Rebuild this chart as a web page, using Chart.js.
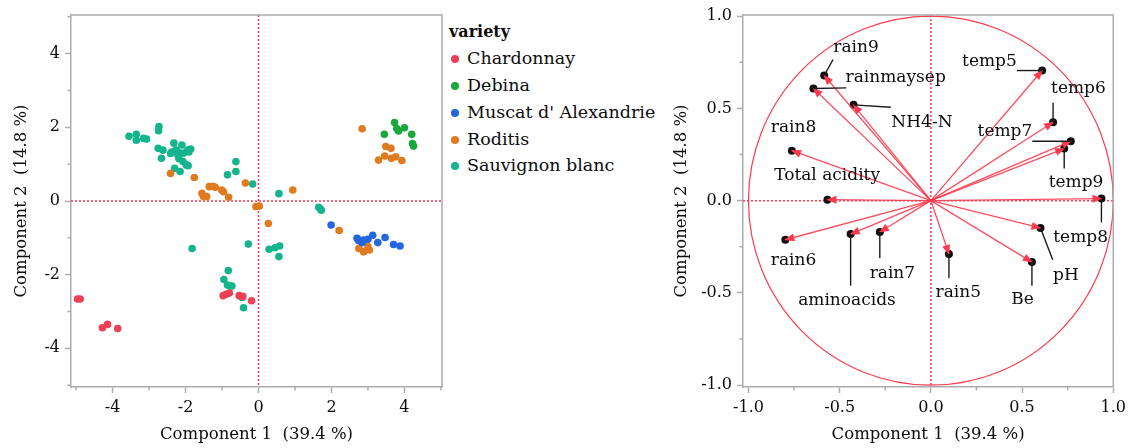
<!DOCTYPE html>
<html>
<head>
<meta charset="utf-8">
<script src="https://cdn.jsdelivr.net/npm/chart.js@4.4.1/dist/chart.umd.min.js"></script>
<style>
  html, body { margin: 0; padding: 0; background: #fff; }
  body { width: 1131px; height: 448px; position: relative; overflow: hidden; font-family: "DejaVu Serif", serif; color: #0c0c0c; }
  #scores { position: absolute; left: 0; top: 0; }
  #loadings { position: absolute; left: 660px; top: 0; }
  #legend { position: absolute; left: 449px; top: 18.6px; font-size: 17.5px; }
  #legend div { height: 26.75px; line-height: 26.75px; white-space: nowrap; }
  #legend .title { font-weight: bold; font-size: 16px; }
  #legend .dot { display: inline-block; width: 8px; height: 8px; border-radius: 50%; margin: 0 8px 0 2px; vertical-align: 1px; }
</style>
</head>
<body>
<canvas id="scores" width="446" height="448"></canvas>
<div id="legend"></div>
<canvas id="loadings" width="471" height="448"></canvas>
<script>
// PCA scores (Component 1, Component 2) per grape variety
const chardonnay = [[-4.96,-2.66],[-4.89,-2.66],[-4.28,-3.44],[-4.14,-3.35],[-3.86,-3.46],
  [-0.97,-2.57],[-0.89,-2.53],[-0.80,-2.50],[-0.53,-2.57],[-0.43,-2.59],[-0.19,-2.71]];
const debina = [[3.45,1.81],[3.73,2.13],[3.79,1.97],[3.84,1.90],[4.00,1.99],[4.20,1.81],
  [4.22,1.56],[4.25,1.49]];
const muscat = [[1.99,-0.65],[2.70,-1.01],[2.75,-1.08],[2.84,-1.13],[2.88,-1.06],[3.00,-1.04],
  [3.13,-0.93],[3.27,-1.13],[3.47,-0.99],[3.70,-1.18],[3.88,-1.22]];
const roditis = [[-2.41,0.75],[-1.76,0.64],[-1.55,0.21],[-1.51,0.12],[-1.42,0.12],[-1.35,0.39],
  [-1.25,0.40],[-1.19,0.37],[-1.01,0.30],[-0.96,0.25],[-0.82,0.10],[-0.36,0.49],[-0.07,-0.15],
  [0.02,-0.14],[0.27,-0.61],[0.94,0.30],[2.21,-0.80],[2.72,-1.03],[2.75,-1.29],[2.88,-1.38],
  [3.00,-1.24],[3.04,-1.33],[2.84,1.96],[3.29,1.11],[3.46,1.22],[3.49,1.48],[3.63,1.43],
  [3.64,1.16],[3.76,1.20],[3.93,1.10]];
const sauvignon = [[-3.55,1.76],[-3.35,1.81],[-3.35,1.65],[-3.15,1.70],[-3.07,1.68],[-2.73,2.02],
  [-2.74,1.91],[-2.75,1.43],[-2.62,1.38],[-2.66,1.16],[-2.41,1.29],[-2.32,1.57],[-2.25,1.38],
  [-2.21,1.25],[-2.10,1.52],[-2.15,1.30],[-2.05,1.30],[-1.94,1.38],[-1.86,1.41],[-1.91,1.33],
  [-2.28,1.36],[-2.07,1.07],[-1.98,0.98],[-1.93,0.96],[-2.30,0.89],[-2.15,0.80],[-2.18,1.15],
  [-2.38,1.33],[-0.62,1.07],[-0.62,0.80],[-0.85,0.71],[-0.16,0.46],[0.56,0.20],[1.65,-0.17],
  [1.70,-0.22],[1.72,-0.25],[-1.82,-1.29],[-0.28,-1.17],[0.29,-1.31],[0.45,-1.27],[0.58,-1.22],
  [0.56,-1.51],[-0.83,-1.89],[-0.95,-2.13],[-0.85,-2.28],[-0.73,-2.31],[-0.80,-2.30],
  [-0.45,-2.62],[-0.41,-2.90]];

const varieties = ['Chardonnay', 'Debina', "Muscat d' Alexandrie", 'Roditis', 'Sauvignon blanc'];
const varietyScores = [chardonnay, debina, muscat, roditis, sauvignon];

// variable loadings on the two components
const variables = ['rain9', 'rainmaysep', 'NH4-N', 'rain8', 'Total acidity', 'rain6', 'aminoacids',
  'rain7', 'rain5', 'Be', 'pH', 'temp8', 'temp5', 'temp6', 'temp7', 'temp9'];
const pc1Loadings = [-0.585, -0.644, -0.424, -0.762, -0.567, -0.798, -0.440, -0.280, 0.099, 0.554,
  0.601, 0.935, 0.610, 0.670, 0.767, 0.731];
const pc2Loadings = [0.678, 0.608, 0.519, 0.271, 0.005, -0.212, -0.181, -0.170, -0.289, -0.333,
  -0.148, 0.011, 0.705, 0.425, 0.322, 0.282];

const scoreTicks = [-4, -2, 0, 2, 4];
const scoreMinorTicks = [-5, -3, -1, 1, 3, 5];
const loadingTicks = [-1, -0.5, 0, 0.5, 1];
const loadingMinorTicks = [-0.75, -0.25, 0.25, 0.75];

// styling / label placement (data units of the loading plot)
const varietyColors = ['#ec4058', '#19a83c', '#2366e0', '#e07a1e', '#14b48c'];
const labelAt = [[-0.41,0.828],[-0.193,0.665],[-0.049,0.425],[-0.753,0.398],[-0.569,0.136],
  [-0.753,-0.324],[-0.46,-0.541],[-0.211,-0.396],[0.15,-0.501],[0.502,-0.537],[0.74,-0.407],
  [0.821,-0.199],[0.321,0.752],[0.809,0.606],[0.406,0.373],[0.796,0.099]];
const leaderTo = [[-0.536,0.765],[-0.464,0.611],[-0.22,0.506],null,null,null,[-0.44,-0.461],
  [-0.28,-0.311],[0.099,-0.42],[0.554,-0.461],[0.668,-0.32],[0.935,-0.118],[0.471,0.705],
  [0.67,0.53],[0.556,0.322],[0.731,0.174]];

Chart.defaults.font.family = '"DejaVu Serif", serif';
Chart.defaults.color = '#0c0c0c';

const RED = '#ff3a4e';
const AXIS = '#acacac';

// dotted zero lines under the marks, full frame and minor ticks on top
const framePlugin = {
  id: 'frame',
  beforeDatasetsDraw(chart) {
    const { ctx, chartArea: a, scales: { x, y } } = chart;
    const x0 = x.getPixelForValue(0), y0 = y.getPixelForValue(0);
    ctx.save();
    ctx.strokeStyle = RED;
    ctx.lineWidth = 1.5;
    ctx.setLineDash([2, 2]);
    ctx.beginPath();
    ctx.moveTo(x0, a.top); ctx.lineTo(x0, a.bottom);
    ctx.moveTo(a.left, y0); ctx.lineTo(a.right, y0);
    ctx.stroke();
    ctx.restore();
  },
  afterDraw(chart, args, opts) {
    const { ctx, chartArea: a, scales: { x, y } } = chart;
    ctx.save();
    ctx.strokeStyle = AXIS;
    ctx.lineWidth = 1.5;
    ctx.beginPath();
    ctx.moveTo(a.left, a.top); ctx.lineTo(a.right, a.top); ctx.lineTo(a.right, a.bottom);
    for (const v of opts.minor) {
      const px = x.getPixelForValue(v);
      if (px >= a.left && px <= a.right) { ctx.moveTo(px, a.bottom); ctx.lineTo(px, a.bottom + 3.5); }
      const py = y.getPixelForValue(v);
      if (py >= a.top && py <= a.bottom) { ctx.moveTo(a.left, py); ctx.lineTo(a.left - 3.5, py); }
    }
    ctx.stroke();
    ctx.restore();
  }
};

function axis(min, max, ticks, size, title, fmt, horizontal) {
  return {
    type: 'linear', min, max,
    afterBuildTicks: s => { s.ticks = ticks.map(v => ({ value: v })); },
    afterFit: s => { if (horizontal) s.height = size; else s.width = size; },
    grid: { drawOnChartArea: false, tickLength: 6, tickColor: AXIS, tickWidth: 1.5 },
    border: { color: AXIS, width: 1.5 },
    ticks: { font: { size: 16 }, padding: 5, maxRotation: 0, callback: fmt },
    title: { display: true, text: title, font: { size: 16.5 },
      padding: horizontal ? { top: 0, bottom: 3 } : { top: 12, bottom: 0 } }
  };
}

// score plot
new Chart(document.getElementById('scores'), {
  type: 'scatter',
  data: {
    datasets: varieties.map((name, i) => ({
      label: name,
      data: varietyScores[i].map(p => ({ x: p[0], y: p[1] })),
      pointRadius: 3.8,
      pointBorderWidth: 0,
      pointBackgroundColor: varietyColors[i]
    }))
  },
  options: {
    responsive: false, animation: false, devicePixelRatio: 1,
    layout: { padding: { left: 0, top: 15, right: 2, bottom: 0 } },
    scales: {
      x: axis(-5.14, 5.03, scoreTicks, 61, 'Component 1  (39.4 %)', v => String(v), true),
      y: axis(-5.05, 5.05, scoreTicks, 71, 'Component 2  (14.8 %)', v => String(v), false)
    },
    plugins: { legend: { display: false }, tooltip: { enabled: false }, frame: { minor: scoreMinorTicks } }
  },
  plugins: [framePlugin]
});

// legend for the score plot
const legend = document.getElementById('legend');
legend.innerHTML = '<div class="title">variety</div>' + varieties.map((name, i) =>
  `<div><span class="dot" style="background:${varietyColors[i]}"></span>${name}</div>`).join('');

// unit circle, arrowheads, leader lines and variable names
const loadingPlugin = {
  id: 'loadingDecor',
  beforeDatasetsDraw(chart) {
    const { ctx, scales: { x, y } } = chart;
    const cx = x.getPixelForValue(0), cy = y.getPixelForValue(0);
    ctx.save();
    ctx.strokeStyle = RED;
    ctx.lineWidth = 1.2;
    ctx.beginPath();
    ctx.ellipse(cx, cy, x.getPixelForValue(1) - cx, cy - y.getPixelForValue(1), 0, 0, Math.PI * 2);
    ctx.stroke();
    ctx.restore();
  },
  afterDatasetsDraw(chart) {
    const { ctx, scales: { x, y } } = chart;
    const cx = x.getPixelForValue(0), cy = y.getPixelForValue(0);
    ctx.save();
    variables.forEach((name, i) => {
      const tx = x.getPixelForValue(pc1Loadings[i]), ty = y.getPixelForValue(pc2Loadings[i]);
      const ang = Math.atan2(ty - cy, tx - cx);
      const c = Math.cos(ang), s = Math.sin(ang);
      ctx.fillStyle = RED;
      ctx.beginPath();
      ctx.moveTo(tx + c, ty + s);
      ctx.lineTo(tx - 9 * c + 4 * s, ty - 9 * s - 4 * c);
      ctx.lineTo(tx - 9 * c - 4 * s, ty - 9 * s + 4 * c);
      ctx.closePath();
      ctx.fill();
      if (leaderTo[i]) {
        ctx.strokeStyle = '#1a1a1a';
        ctx.lineWidth = 1.4;
        ctx.beginPath();
        ctx.moveTo(tx, ty);
        ctx.lineTo(x.getPixelForValue(leaderTo[i][0]), y.getPixelForValue(leaderTo[i][1]));
        ctx.stroke();
      }
      ctx.fillStyle = '#0c0c0c';
      ctx.font = '17px "DejaVu Serif", serif';
      ctx.textAlign = 'center';
      ctx.textBaseline = 'middle';
      ctx.fillText(name, x.getPixelForValue(labelAt[i][0]), y.getPixelForValue(labelAt[i][1]));
    });
    ctx.restore();
  }
};

const arrowSets = variables.map((name, i) => ({
  label: name,
  data: [{ x: 0, y: 0 }, { x: pc1Loadings[i], y: pc2Loadings[i] }],
  showLine: true,
  borderColor: 'rgba(255,58,78,0.9)',
  borderWidth: 1.3,
  pointRadius: 0
}));

// loading plot
new Chart(document.getElementById('loadings'), {
  type: 'scatter',
  data: {
    datasets: [...arrowSets, {
      label: 'variables',
      data: variables.map((n, i) => ({ x: pc1Loadings[i], y: pc2Loadings[i] })),
      pointRadius: 4,
      pointBorderWidth: 0,
      pointBackgroundColor: '#111'
    }]
  },
  options: {
    responsive: false, animation: false, devicePixelRatio: 1,
    layout: { padding: { left: 0, top: 15, right: 14, bottom: 0 } },
    scales: {
      x: axis(-1.03, 1.0, loadingTicks, 61, 'Component 1  (39.4 %)', v => v.toFixed(1), true),
      y: axis(-1.01, 1.006, loadingTicks, 83, 'Component 2  (14.8 %)', v => v.toFixed(1), false)
    },
    plugins: { legend: { display: false }, tooltip: { enabled: false }, frame: { minor: loadingMinorTicks } }
  },
  plugins: [framePlugin, loadingPlugin]
});
</script>
</body>
</html>
